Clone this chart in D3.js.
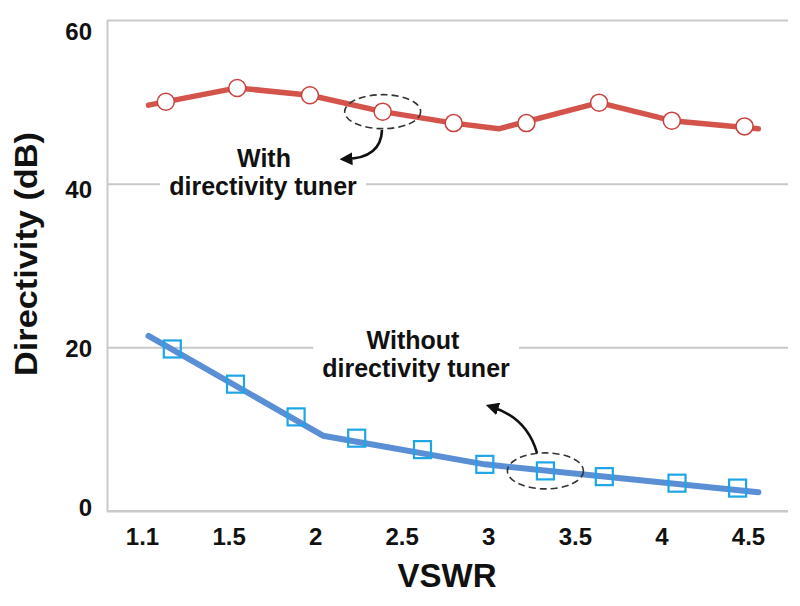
<!DOCTYPE html>
<html>
<head>
<meta charset="utf-8">
<script src="https://cdn.jsdelivr.net/npm/d3@7"></script>
<style>
  body { margin: 0; background: #fff; }
  svg { display: block; font-family: "Liberation Sans", Arial, Helvetica, sans-serif; }
</style>
</head>
<body>
<svg id="chart" width="800" height="606"></svg>
<script>
// ---------- data ----------
const xTickValues = [1.1, 1.5, 2, 2.5, 3, 3.5, 4, 4.5];
const xTickLabels = ["1.1", "1.5", "2", "2.5", "3", "3.5", "4", "4.5"];
const yTickValues = [0, 20, 40, 60];

// "With directivity tuner" - line vertices
const withLineX = [1.13, 1.55, 1.97, 2.39, 2.80, 3.06, 3.64, 4.06, 4.56];
const withLineY = [49.6, 51.7, 50.8, 48.8, 47.4, 46.7, 49.9, 47.7, 46.7];
// "With directivity tuner" - circle markers
const withMarkX = [1.21, 1.55, 1.97, 2.39, 2.80, 3.22, 3.64, 4.06, 4.48];
const withMarkY = [50.0, 51.7, 50.8, 48.8, 47.4, 47.4, 49.9, 47.7, 47.0];

// "Without directivity tuner" - line vertices
const withoutLineX = [1.13, 2.045, 2.98, 4.56];
const withoutLineY = [21.4, 9.2, 5.7, 2.3];
// "Without directivity tuner" - square markers
const withoutMarkX = [1.24, 1.54, 1.89, 2.24, 2.62, 2.98, 3.33, 3.67, 4.09, 4.44];
const withoutMarkY = [19.8, 15.5, 11.5, 8.9, 7.5, 5.7, 4.9, 4.2, 3.4, 2.8];

// ---------- layout ----------
const svg = d3.select("#chart");
const mLeft = 107, mRight = 788, mTop = 20, mBottom = 511;

const xIdx = d3.scaleLinear().domain([0, xTickValues.length - 1]).range([142, 748]);
const x = d3.scaleLinear().domain(xTickValues).range(xTickValues.map((d, i) => xIdx(i)));
const y = d3.scaleLinear().domain([0, 60]).range([mBottom, mTop]);
// tick labels in the reference sit on a slightly compressed scale
const yLab = d3.scaleLinear().domain([0, 60]).range([515.6, 39.8]);

const gridColor = "#c9c9c9";

// y grid + axis line
const yAxis = svg.append("g")
  .attr("transform", `translate(${mLeft},0)`)
  .call(d3.axisLeft(y).tickValues(yTickValues).tickSize(-(mRight - mLeft)).tickSizeOuter(0).tickFormat(""));
yAxis.selectAll(".tick line").attr("stroke", gridColor).attr("stroke-width", 2);
yAxis.select(".domain").attr("stroke", gridColor).attr("stroke-width", 2);

// x axis
const xAxis = svg.append("g")
  .attr("transform", `translate(0,${mBottom})`)
  .call(d3.axisBottom(x).tickValues(xTickValues).tickSize(0).tickPadding(17)
    .tickFormat((d, i) => xTickLabels[i]));
xAxis.select(".domain").attr("stroke", gridColor).attr("stroke-width", 2)
  .attr("d", `M${mLeft},0H${mRight}`);
xAxis.selectAll("text").attr("font-size", 24).attr("font-weight", "bold")
  .attr("fill", "#111").attr("font-family", "Liberation Sans, Arial, sans-serif");

// y tick labels
svg.append("g").selectAll("text").data(yTickValues).join("text")
  .attr("x", 92).attr("y", d => yLab(d))
  .attr("text-anchor", "end").attr("font-size", 24).attr("font-weight", "bold")
  .attr("fill", "#111").text(d => d);

// axis titles
svg.append("text").attr("transform", "translate(37,254) rotate(-90)")
  .attr("text-anchor", "middle").attr("font-size", 31).attr("font-weight", "bold")
  .attr("textLength", 244).attr("lengthAdjust", "spacingAndGlyphs")
  .attr("fill", "#111").text("Directivity (dB)");
svg.append("text").attr("x", 447).attr("y", 587)
  .attr("text-anchor", "middle").attr("font-size", 33).attr("font-weight", "bold")
  .attr("fill", "#111").text("VSWR");

// ---------- annotations (text with white knock-out) ----------
function annot(lines) {
  const g = svg.append("g");
  const bg = g.append("rect").attr("fill", "#fff");
  lines.forEach(l => {
    g.append("text").attr("x", l.x).attr("y", l.y).attr("text-anchor", "middle")
      .attr("font-size", 25).attr("font-weight", "bold").attr("fill", "#111").text(l.t);
  });
  const b = g.node().getBBox();
  bg.attr("x", b.x - 9).attr("y", b.y).attr("width", b.width + 18).attr("height", b.height);
}
annot([{ t: "With", x: 264, y: 167 }, { t: "directivity tuner", x: 263, y: 195 }]);
annot([{ t: "Without", x: 413, y: 349 }, { t: "directivity tuner", x: 416, y: 377 }]);

// ---------- series ----------
const line = d3.line().x(d => x(d[0])).y(d => y(d[1]));

const redPts = withLineX.map((d, i) => [d, withLineY[i]]);
const bluePts = withoutLineX.map((d, i) => [d, withoutLineY[i]]);

svg.append("path").attr("d", line(redPts)).attr("fill", "none")
  .attr("stroke", "#d4544c").attr("stroke-width", 5.5)
  .attr("stroke-linejoin", "round").attr("stroke-linecap", "round");
svg.append("path").attr("d", line(bluePts)).attr("fill", "none")
  .attr("stroke", "#5a8fd6").attr("stroke-width", 6)
  .attr("stroke-linejoin", "round").attr("stroke-linecap", "round");

svg.append("g").selectAll("circle").data(withMarkX.map((d, i) => [d, withMarkY[i]])).join("circle")
  .attr("cx", d => x(d[0])).attr("cy", d => y(d[1])).attr("r", 8.5)
  .attr("fill", "#fff").attr("stroke", "#c8423e").attr("stroke-width", 1.5);

const sq = 17;
svg.append("g").selectAll("rect").data(withoutMarkX.map((d, i) => [d, withoutMarkY[i]])).join("rect")
  .attr("x", d => x(d[0]) - sq / 2).attr("y", d => y(d[1]) - sq / 2)
  .attr("width", sq).attr("height", sq)
  .attr("fill", "none").attr("stroke", "#1fa5e6").attr("stroke-width", 2.2);

// ---------- dashed ellipses + arrows ----------
const defs = svg.append("defs");
defs.append("marker").attr("id", "ah").attr("viewBox", "0 0 10 10")
  .attr("refX", 5).attr("refY", 5).attr("markerWidth", 5).attr("markerHeight", 5)
  .attr("orient", "auto-start-reverse")
  .append("path").attr("d", "M0,0L10,5L0,10z").attr("fill", "#111");

const hiRed = 3, hiBlue = 6;
svg.append("ellipse").attr("cx", x(withMarkX[hiRed])).attr("cy", y(withMarkY[hiRed]))
  .attr("rx", 38).attr("ry", 17).attr("fill", "none")
  .attr("stroke", "#333").attr("stroke-width", 1.6).attr("stroke-dasharray", "7,4");
svg.append("ellipse").attr("cx", x(withoutMarkX[hiBlue])).attr("cy", y(withoutMarkY[hiBlue]))
  .attr("rx", 38).attr("ry", 18).attr("fill", "none")
  .attr("stroke", "#333").attr("stroke-width", 1.6).attr("stroke-dasharray", "7,4");

svg.append("path").attr("d", "M382,130 Q381,158 346,159").attr("fill", "none")
  .attr("stroke", "#111").attr("stroke-width", 2.6).attr("marker-end", "url(#ah)");
svg.append("path").attr("d", "M537,453 Q527,418 492,407").attr("fill", "none")
  .attr("stroke", "#111").attr("stroke-width", 2.6).attr("marker-end", "url(#ah)");
</script>
</body>
</html>
